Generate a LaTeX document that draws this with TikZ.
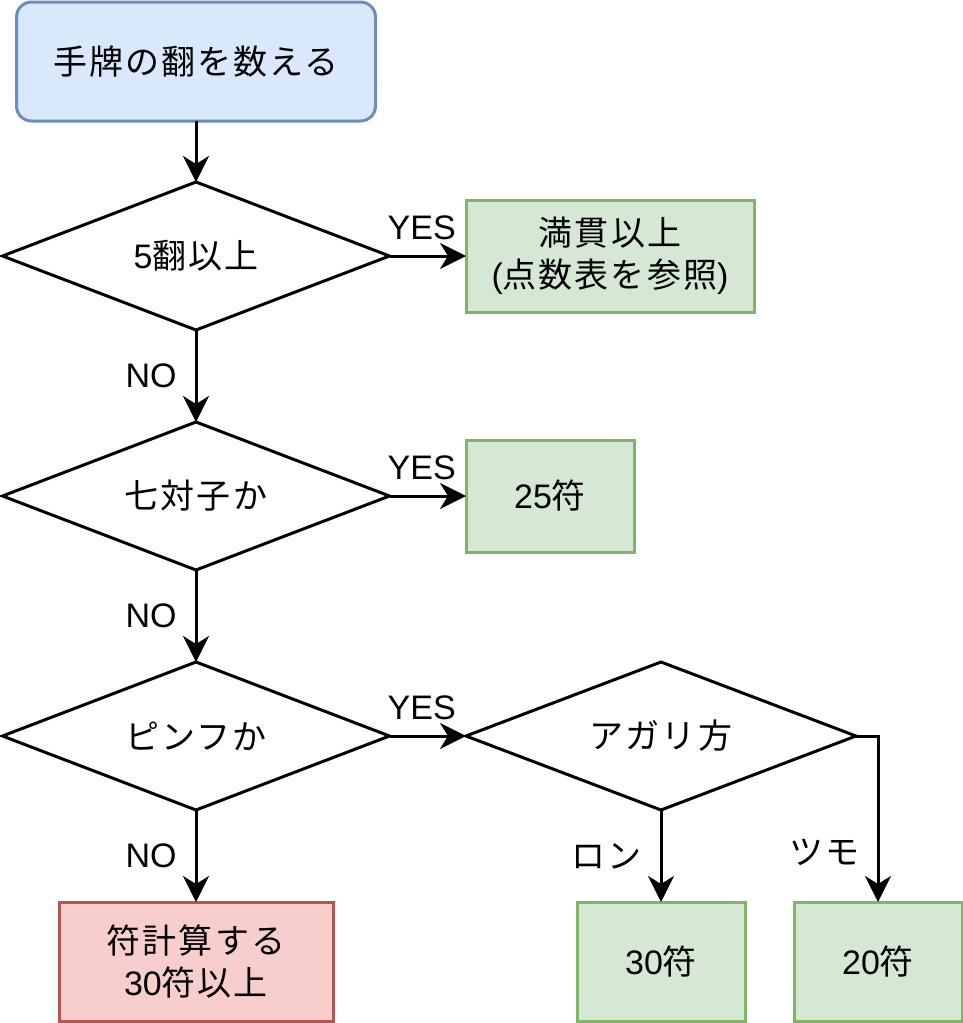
\documentclass[tikz,border=0pt]{standalone}
\usepackage{fontspec}
\setmainfont{Liberation Sans}
\newfontfamily\cjk[Scale=1.0,LetterSpace=6]{Noto Sans CJK JP}
\newcommand\jp[1]{{\cjk #1}}
\usetikzlibrary{arrows.meta,shapes.geometric}
\definecolor{bluef}{HTML}{DAE8FC}
\definecolor{blued}{HTML}{6C8EBF}
\definecolor{greenf}{HTML}{D5E8D4}
\definecolor{greend}{HTML}{82B366}
\definecolor{redf}{HTML}{F8CECC}
\definecolor{redd}{HTML}{B85450}
\begin{document}
\begin{tikzpicture}[x=1pt,y=-1pt,line width=3pt,
  every node/.style={font=\fontsize{34}{42}\selectfont},
  box/.style={draw,rectangle,inner sep=0pt,outer sep=0pt},
  gbox/.style={box,fill=greenf,draw=greend},
  dia/.style={draw,diamond,shape aspect=2.6,inner sep=0pt,outer sep=0pt,minimum width=387pt,minimum height=148pt},
  arr/.style={-{Stealth[length=26pt,width=26pt,inset=8pt]}},
  lbl/.style={inner sep=0pt}]
\useasboundingbox (0,0) rectangle (963,1023);
\node[box,rounded corners=15pt,fill=bluef,draw=blued,minimum width=359pt,minimum height=119pt] (start) at (196,61.5) {\jp{手牌の翻を数える}};
\node[dia] (d1) at (196,256) {5\jp{翻以上}};
\node[gbox,minimum width=288pt,minimum height=112pt,align=center] (b1) at (610,256) {\jp{満貫以上}\\(\jp{点数表を参照})};
\node[dia] (d2) at (196,496) {\jp{七対子か}};
\node[gbox,minimum width=168pt,minimum height=112pt] (b2) at (550,496) {25\jp{符}};
\node[dia] (d3) at (196,736) {\jp{ピンフか}};
\node[dia,minimum width=390pt] (d4) at (661,736) {\jp{アガリ方}};
\node[box,fill=redf,draw=redd,minimum width=274pt,minimum height=119pt,align=center] (b3) at (196,961.5) {\jp{符計算する}\\30\jp{符以上}};
\node[gbox,minimum width=168pt,minimum height=119pt] (b4) at (661,961.5) {30\jp{符}};
\node[gbox,minimum width=168pt,minimum height=119pt] (b5) at (878,961.5) {20\jp{符}};
\draw[arr] (start.south) -- (d1.north);
\draw[arr] (d1.east) -- (b1.west) node[lbl,midway,above=15pt,xshift=-6pt] {YES};
\draw[arr] (d1.south) -- (d2.north) node[lbl,midway,left=18pt] {NO};
\draw[arr] (d2.east) -- (b2.west) node[lbl,midway,above=15pt,xshift=-6pt] {YES};
\draw[arr] (d2.south) -- (d3.north) node[lbl,midway,left=18pt] {NO};
\draw[arr] (d3.east) -- (d4.west) node[lbl,midway,above=15pt,xshift=-6pt] {YES};
\draw[arr] (d3.south) -- (b3.north) node[lbl,midway,left=18pt] {NO};
\draw[arr] (d4.south) -- (b4.north) node[lbl,midway,left=18pt] {\jp{ロン}};
\draw[arr] (d4.east) -| (b5.north) node[lbl,pos=0.85,left=17pt] {\jp{ツモ}};
\end{tikzpicture}
\end{document}
